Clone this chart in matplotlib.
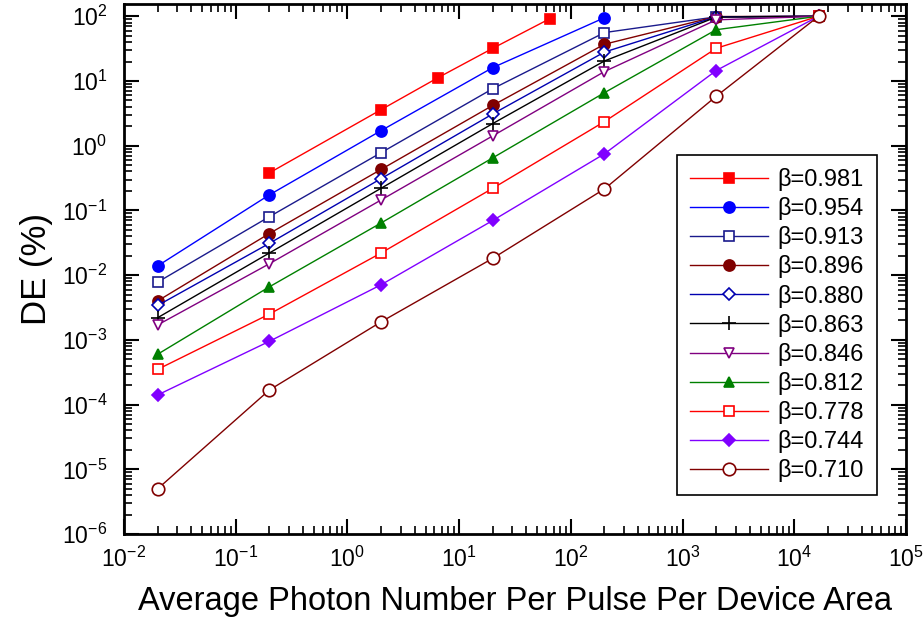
import matplotlib
matplotlib.use("Agg")
import matplotlib.pyplot as plt
from matplotlib.ticker import LogLocator, NullFormatter

plt.rcParams['font.family'] = ['Liberation Sans', 'DejaVu Sans']
plt.rcParams['mathtext.fontset'] = 'custom'
plt.rcParams['mathtext.rm'] = 'Liberation Sans'

# photon number per pulse (shared grid; the 0.981 curve has its own)
photons = [0.02, 0.2, 2, 20, 200, 2000, 16500]
photons_981 = [0.2, 2, 6.5, 20, 65]

betas = ["0.981", "0.954", "0.913", "0.896", "0.880", "0.863",
         "0.846", "0.812", "0.778", "0.744", "0.710"]

de_981 = [0.38, 3.6, 11.3, 32, 92]
de_954 = [0.0139, 0.174, 1.71, 16.1, 95]
de_913 = [0.0078, 0.080, 0.78, 7.6, 56, 98, 100]
de_896 = [0.0040, 0.044, 0.43, 4.2, 37, 99, 100]
de_880 = [0.0034, 0.031, 0.31, 3.1, 28, 98, 100]
de_863 = [0.0022, 0.022, 0.22, 2.2, 20.4, 97, 100]
de_846 = [0.0017, 0.015, 0.145, 1.42, 14, 88, 100]
de_812 = [0.00060, 0.0066, 0.064, 0.65, 6.6, 62, 100]
de_778 = [0.00035, 0.0025, 0.022, 0.22, 2.36, 32, 100]
de_744 = [0.000141, 0.00095, 0.0071, 0.070, 0.75, 14.5, 100]
de_710 = [5.0e-6, 1.68e-4, 0.0019, 0.0182, 0.215, 5.8, 100]

series = [de_981, de_954, de_913, de_896, de_880, de_863,
          de_846, de_812, de_778, de_744, de_710]
colors = ["#ff0000", "#0000ff", "#1a1a8c", "#800000", "#0000b0", "#000000",
          "#800080", "#008000", "#ff0000", "#8000ff", "#800000"]
markers = ["s", "o", "s", "o", "D", "+", "v", "^", "s", "D", "o"]
filled = [True, True, False, True, False, True, False, True, False, True, False]
sizes = [7, 8, 7, 8, 6.5, 10, 7.5, 7.5, 7, 6.5, 9]

fig = plt.figure(figsize=(9.24, 6.21), dpi=100)
ax = fig.add_axes([0.1342, 0.140, 0.8463, 0.8536])

for i, (vals, beta) in enumerate(zip(series, betas)):
    xs = photons_981 if i == 0 else photons[:len(vals)]
    ax.plot(xs, vals, color=colors[i], lw=1.0, marker=markers[i], ms=sizes[i],
            mfc=colors[i] if filled[i] else "white", mec=colors[i], mew=1.2,
            label="β=" + beta)

ax.set_xscale("log")
ax.set_yscale("log")
ax.set_xlim(1e-2, 1e5)
ax.set_ylim(1e-6, 10 ** 2.19)

ax.xaxis.set_major_locator(LogLocator(base=10, numticks=20))
ax.yaxis.set_major_locator(LogLocator(base=10, numticks=20))
ax.xaxis.set_minor_locator(LogLocator(base=10, subs=range(2, 10), numticks=20))
ax.yaxis.set_minor_locator(LogLocator(base=10, subs=range(2, 10), numticks=20))
ax.xaxis.set_minor_formatter(NullFormatter())
ax.yaxis.set_minor_formatter(NullFormatter())

ax.tick_params(which="both", direction="in", top=True, right=True, labelsize=16.5)
ax.tick_params(which="major", length=11, width=1.5)
ax.tick_params(axis="x", which="major", pad=9)
ax.tick_params(axis="y", which="major", pad=12)
ax.tick_params(which="minor", length=6, width=1.2)
for sp in ax.spines.values():
    sp.set_linewidth(2)

ax.set_ylabel("DE (%)", fontsize=25, labelpad=6)
ax.set_xlabel("Average Photon Number Per Pulse Per Device Area", fontsize=23.5, labelpad=10)

leg = ax.legend(loc="upper right", bbox_to_anchor=(0.963, 0.715), borderaxespad=0,
                fontsize=17, handlelength=3.3, handletextpad=0.4, labelspacing=0.26,
                borderpad=0.55, fancybox=False, framealpha=1, edgecolor="black")
leg.get_frame().set_linewidth(1.2)

fig.savefig("out.png", dpi=100)
